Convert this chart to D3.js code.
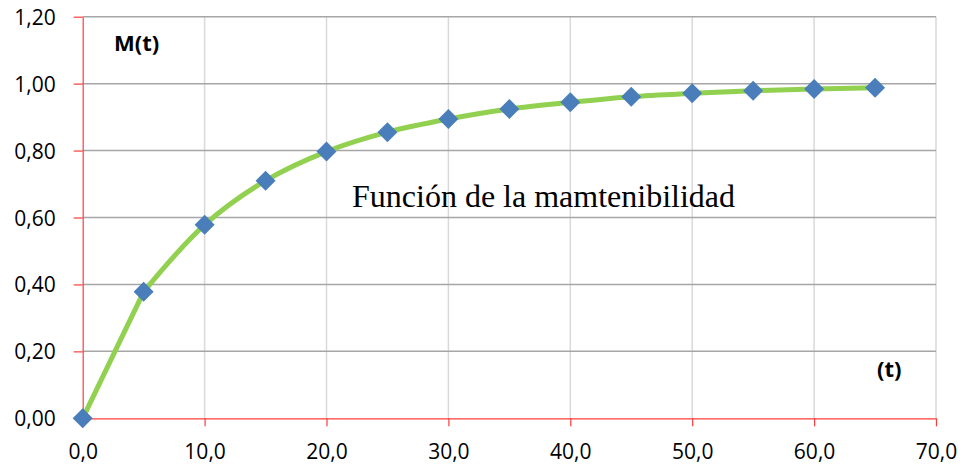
<!DOCTYPE html>
<html><head><meta charset="utf-8">
<script src="https://cdn.jsdelivr.net/npm/d3@7"></script>
<style>body{margin:0;background:#fff}svg{display:block}</style>
</head><body>
<svg id="chart" width="963" height="471"></svg>
<script>
const tValues = [0, 5, 10, 15, 20, 25, 30, 35, 40, 45, 50, 55, 60, 65];
const mValues = [0, 0.378, 0.578, 0.710, 0.797, 0.855, 0.894, 0.924, 0.944, 0.961, 0.971, 0.979, 0.984, 0.988];
const xTicks = [0, 10, 20, 30, 40, 50, 60, 70];
const yTicks = [0, 0.2, 0.4, 0.6, 0.8, 1.0, 1.2];
const yLabel = "M(t)";
const xLabel = "(t)";
const chartTitle = "Función de la mamtenibilidad";

const W = 963, H = 471;
const m = {left: 82.7, right: 27, top: 16.7, bottom: 52.7};
const svg = d3.select("#chart");
const x = d3.scaleLinear().domain([0, 70]).range([m.left, W - m.right]);
const y = d3.scaleLinear().domain([0, 1.2]).range([H - m.bottom, m.top]);
const fmtX = v => d3.format(".1f")(v).replace(".", ",");
const fmtY = v => d3.format(".2f")(v).replace(".", ",");
const font = "'Open Sans', sans-serif";

// vertical gridlines
svg.append("g").selectAll("line").data(xTicks.filter(d => d > 0)).join("line")
  .attr("x1", d => x(d)).attr("x2", d => x(d))
  .attr("y1", y(0)).attr("y2", y(1.2))
  .attr("stroke", "#d9d9d9").attr("stroke-width", 1.5);
// horizontal gridlines
svg.append("g").selectAll("line").data(yTicks.filter(d => d > 0)).join("line")
  .attr("x1", x(0)).attr("x2", x(70))
  .attr("y1", d => y(d)).attr("y2", d => y(d))
  .attr("stroke", "#a6a6a6").attr("stroke-width", 1.5);

// axes
const xAxis = svg.append("g").attr("transform", `translate(0,${y(0)})`)
  .call(d3.axisBottom(x).tickValues(xTicks).tickFormat(fmtX).tickSizeInner(8).tickSizeOuter(0).tickPadding(18));
const yAxis = svg.append("g").attr("transform", `translate(${x(0)},0)`)
  .call(d3.axisLeft(y).tickValues(yTicks).tickFormat(fmtY).tickSizeInner(9).tickSizeOuter(0).tickPadding(18));
[xAxis, yAxis].forEach(a => {
  a.select(".domain").attr("stroke", "#ff3b3b").attr("stroke-width", 1.2);
  a.selectAll(".tick line").attr("stroke", "#ff3b3b").attr("stroke-width", 1.2);
  a.selectAll(".tick text").attr("font-family", font).attr("font-size", 21).attr("fill", "#000");
});
yAxis.selectAll(".tick text").attr("dy", "0.36em");
xAxis.selectAll(".tick text").attr("dy", "0.71em");

// line: first segment straight, rest smoothed
const pts = tValues.map((t, i) => [t, mValues[i]]);
const lineStraight = d3.line().x(d => x(d[0])).y(d => y(d[1]));
const lineSmooth = d3.line().x(d => x(d[0])).y(d => y(d[1])).curve(d3.curveCatmullRom.alpha(0.5));
svg.append("path").datum(pts.slice(0, 2)).attr("d", lineStraight)
  .attr("fill", "none").attr("stroke", "#92d050").attr("stroke-width", 5).attr("stroke-linecap", "round");
svg.append("path").datum(pts.slice(1)).attr("d", lineSmooth)
  .attr("fill", "none").attr("stroke", "#92d050").attr("stroke-width", 5).attr("stroke-linejoin", "round").attr("stroke-linecap", "round");

// markers
svg.append("g").selectAll("path").data(pts).join("path")
  .attr("d", d3.symbol().type(d3.symbolSquare).size(200))
  .attr("transform", d => `translate(${x(d[0])},${y(d[1])}) rotate(45)`)
  .attr("fill", "#4a7ebb");

// labels
svg.append("text").attr("x", 114).attr("y", 51).text(yLabel)
  .attr("font-family", font).attr("font-weight", "bold").attr("font-size", 22);
svg.append("text").attr("x", 877).attr("y", 377).text(xLabel)
  .attr("font-family", font).attr("font-weight", "bold").attr("font-size", 22);
svg.append("text").attr("x", 352).attr("y", 207).text(chartTitle)
  .attr("font-family", "'Liberation Serif', 'Times New Roman', serif").attr("font-size", 32);
</script>
</body></html>
